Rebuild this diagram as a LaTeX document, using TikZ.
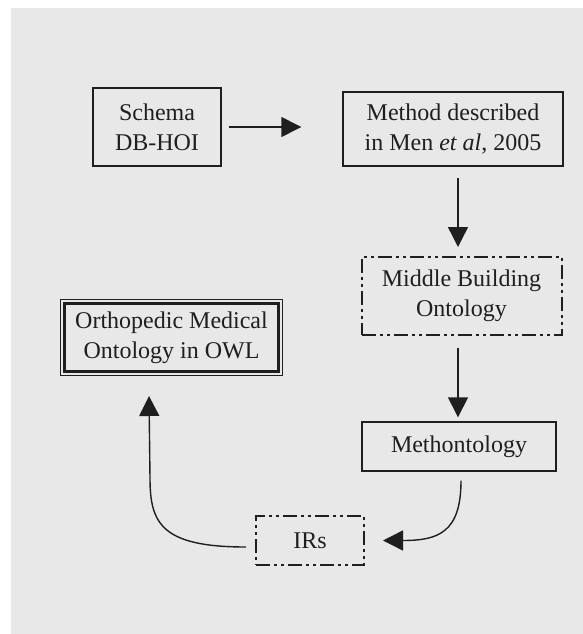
\documentclass[tikz,border=0pt]{standalone}
\usepackage{fontspec}
\setmainfont{Liberation Serif}
\usepackage{xcolor}
\colorlet{colBack}{black!9}
\colorlet{colLine}{black!88}
\usetikzlibrary{arrows.meta, positioning}

\begin{document}
\begin{tikzpicture}[x=1pt, y=-1pt, >={Triangle[length=20pt, width=20pt]},
		every node/.style={font=\fontsize{24}{30}\selectfont, align=center, inner sep=0pt, text=colLine},
		plainbox/.style={draw=colLine, line width=1.4pt},
		dashbox/.style={draw=colLine, line width=2pt, dash pattern=on 14pt off 4pt on 3pt off 4pt on 3pt off 4pt},
		link/.style={->, line width=1.4pt, draw=colLine}]
	\useasboundingbox (0,0) rectangle (583,634);
	\fill[colBack] (11,8) rectangle (583,634);
	% boxes
	\node[plainbox, minimum width=128pt, minimum height=78pt] (schema) at (157,127) {Schema\\DB-HOI};
	\node[plainbox, minimum width=220pt, minimum height=74pt] (method) at (453,129)
		{Method described\\in Men \textit{et al}, 2005};
	\node[dashbox, minimum width=200pt, minimum height=78pt] (middle) at (461.5,296) {Middle Building\\Ontology};
	\node[plainbox, minimum width=194pt, minimum height=49pt] (methon) at (459,446.5) {Methontology};
	\node[dashbox, minimum width=108pt, minimum height=49pt] (irs) at (310,540.5) {IRs};
	\node[draw=colLine, line width=3pt, minimum width=214pt, minimum height=68pt] (ortho) at (171.5,337.5)
		{Orthopedic Medical\\Ontology in OWL};
	\draw[colLine, line width=1pt] ([shift={(-2.5pt,-2.5pt)}]ortho.south west) rectangle ([shift={(2.5pt,2.5pt)}]ortho.north east);
	% connectors
	\draw[link, shorten <=7pt, shorten >=41pt] (schema.east) -- (schema.east -| method.west);
	\draw[link, shorten <=11pt, shorten >=9pt] ([xshift=5pt]method.south) -- ([xshift=5pt]method.south |- middle.north);
	\draw[link, shorten <=12pt, shorten >=4pt] ([xshift=-3.5pt]middle.south) -- ([xshift=-3.5pt]middle.south |- methon.north);
	\draw[link] ([shift={(2pt,-9pt)}]methon.south) .. controls +(0pt,-52pt) and +(55pt,0pt) .. ([xshift=18pt]irs.east);
	\coordinate (bend) at (150,478);
	\draw[link] ([shift={(-9pt,-6.5pt)}]irs.west) .. controls +(-85pt,0pt) and +(0pt,-45pt) .. (bend)
		-- ([shift={(-22.5pt,-23pt)}]ortho.south);
\end{tikzpicture}
\end{document}
